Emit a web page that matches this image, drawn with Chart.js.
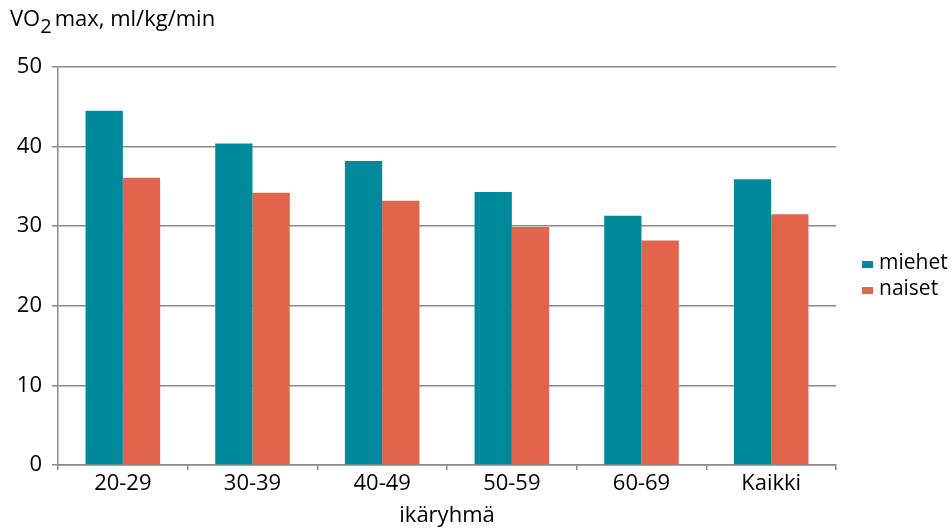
<!DOCTYPE html>
<html>
<head>
<meta charset="utf-8">
<script src="https://cdn.jsdelivr.net/npm/chart.js@4"></script>
<style>
  html, body { margin: 0; padding: 0; background: #ffffff; }
  #wrap { position: relative; width: 952px; height: 529px; }
</style>
</head>
<body>
<div id="wrap"><canvas id="chart" width="952" height="529"></canvas></div>
<script>
// Age groups and maximal oxygen uptake (ml/kg/min) by sex
const ageGroups = ['20-29', '30-39', '40-49', '50-59', '60-69', 'Kaikki'];
const miehet = [44.5, 40.4, 38.2, 34.3, 31.3, 35.9];
const naiset = [36.1, 34.2, 33.2, 29.9, 28.2, 31.5];
const yTicks = [0, 10, 20, 30, 40, 50];

const FONT = '"Open Sans", "Noto Sans", sans-serif';
const TEAL = '#00899a';
const ORANGE = '#e0654a';
const GRID = '#8a8a8a';
const INK = '#000000';

// Title with subscript and a custom legend at the right
const annotations = {
  id: 'annotations',
  afterDraw(chart) {
    const ctx = chart.ctx;
    ctx.save();
    ctx.fillStyle = INK;
    ctx.textBaseline = 'alphabetic';
    ctx.textAlign = 'left';
    let x = 10;
    const base = 26;
    ctx.font = '22px ' + FONT;
    ctx.fillText('VO', x, base);
    x += ctx.measureText('VO').width;
    ctx.font = '20px ' + FONT;
    ctx.fillText('2', x, base + 7);
    x += ctx.measureText('2').width + 3;
    ctx.font = '22px ' + FONT;
    ctx.fillText('max, ml/kg/min', x, base);

    // legend
    const lx = 862, ly = 261, step = 26;
    chart.data.datasets.forEach((ds, i) => {
      ctx.fillStyle = ds.backgroundColor;
      ctx.fillRect(lx, ly + i * step, 11, 7);
      ctx.fillStyle = INK;
      ctx.font = '21px ' + FONT;
      ctx.fillText(ds.label, lx + 17, ly + 8 + i * step);
    });
    ctx.restore();
  }
};

new Chart(document.getElementById('chart'), {
  type: 'bar',
  data: {
    labels: ageGroups,
    datasets: [
      { label: 'miehet', data: miehet, backgroundColor: TEAL, borderWidth: 0,
        categoryPercentage: 0.575, barPercentage: 1.0 },
      { label: 'naiset', data: naiset, backgroundColor: ORANGE, borderWidth: 0,
        categoryPercentage: 0.575, barPercentage: 1.0 }
    ]
  },
  options: {
    responsive: false,
    animation: false,
    layout: { padding: { top: 67, right: 116, bottom: 0, left: 0 } },
    plugins: {
      legend: { display: false },
      tooltip: { enabled: false },
      title: { display: false }
    },
    scales: {
      x: {
        offset: true,
        grid: { display: true, drawOnChartArea: false, drawTicks: true, tickLength: 5,
                color: GRID, lineWidth: 1.5, offset: true },
        border: { display: true, color: GRID, width: 1.5 },
        ticks: { color: INK, font: { family: FONT, size: 22 }, padding: 1 },
        title: { display: true, text: 'ikäryhmä', color: INK,
                 font: { family: FONT, size: 22 }, padding: { top: 0, bottom: 0 } },
        afterFit(scale) { scale.height = 64; }
      },
      y: {
        min: 0, max: 50,
        afterBuildTicks(scale) { scale.ticks = yTicks.map(v => ({ value: v })); },
        grid: { color: GRID, lineWidth: 1.5, drawTicks: true, tickLength: 6 },
        border: { display: true, color: GRID, width: 1.5 },
        ticks: { color: INK, font: { family: FONT, size: 22 }, padding: 10 },
        afterFit(scale) { scale.width = 58; }
      }
    }
  },
  plugins: [annotations]
});
</script>
</body>
</html>
